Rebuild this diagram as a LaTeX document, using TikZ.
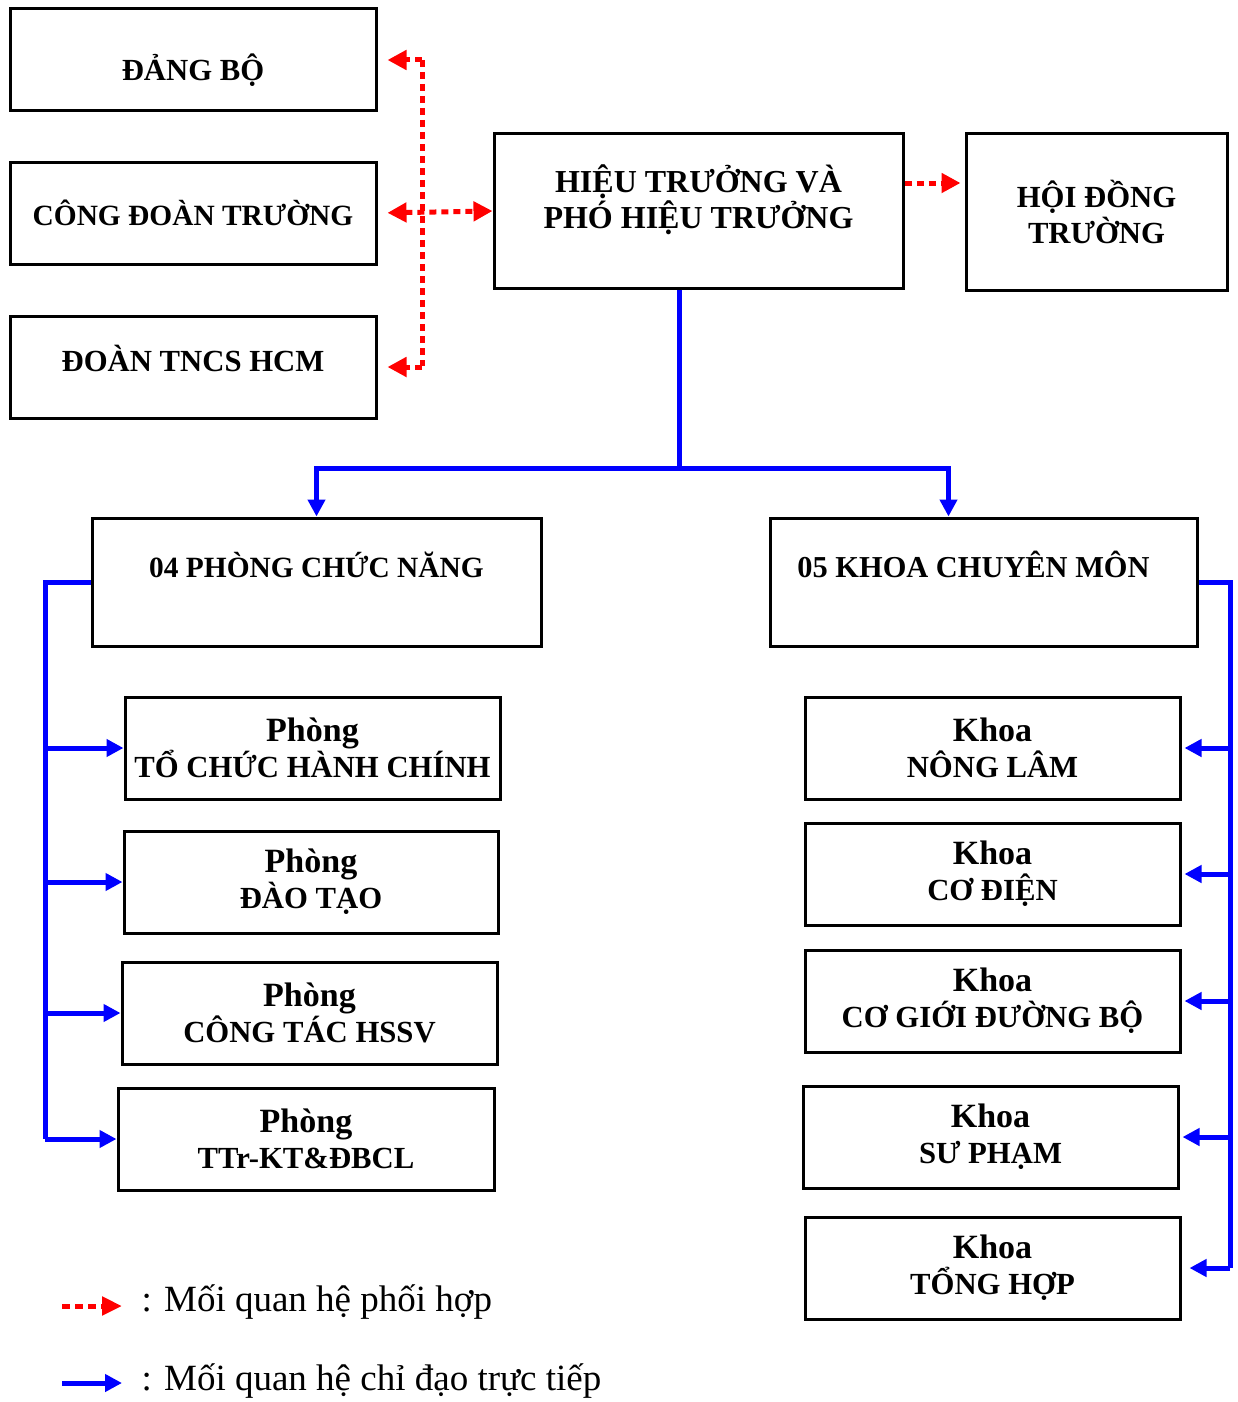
\documentclass[tikz,border=0pt]{standalone}
\usepackage{fontspec}
\setmainfont{Liberation Serif}
\usepackage{xcolor}
\usetikzlibrary{arrows.meta}
\definecolor{redcoord}{HTML}{FF0000}
\definecolor{bluelead}{HTML}{0000FF}
\newcommand{\unitkind}[1]{{\fontsize{34}{36}\selectfont #1}}
\tikzset{
  every node/.append style={font=\fontsize{30.7}{36}\selectfont\bfseries},
  unitbox/.style={draw=black,line width=3pt,align=center,inner sep=0pt},
  coordline/.style={redcoord,line width=5pt,dash pattern=on 7pt off 5pt,
    arrows={-Triangle[length=19pt,width=19pt]}},
  leadline/.style={bluelead,line width=5pt},
  leadarrow/.style={leadline,-{Triangle[length=17pt,width=17pt]}},
}

\begin{document}
\begin{tikzpicture}[x=1pt,y=-1pt]
  \useasboundingbox (0,0) rectangle (1238,1402);
  % upper level
  \node[unitbox,minimum width=366pt,minimum height=102pt,text height=49pt,text depth=7pt]
    (dang) at (193,60) {ĐẢNG BỘ};
  \node[unitbox,minimum width=366pt,minimum height=102pt,font=\fontsize{29.4}{36}\selectfont\bfseries]
    (congdoan) at (193,213) {CÔNG ĐOÀN TRƯỜNG};
  \node[unitbox,minimum width=366pt,minimum height=102pt,text height=30pt,text depth=22pt]
    (doan) at (193,367) {ĐOÀN TNCS HCM};
  \node[unitbox,minimum width=409pt,minimum height=154pt,font=\fontsize{32}{36}\selectfont\bfseries]
    (hieutruong) at (698.5,211) {HIỆU TRƯỞNG VÀ\\PHÓ HIỆU TRƯỞNG\\[-8pt]~};
  \node[unitbox,minimum width=261pt,minimum height=156pt] (hoidong) at (1096.5,212)
    {HỘI ĐỒNG\\TRƯỜNG};
  % middle level
  \node[unitbox,minimum width=449pt,minimum height=128pt,font=\fontsize{29.4}{35}\selectfont\bfseries]
    (phong) at (316.5,582) {04 PHÒNG CHỨC NĂNG\\~};
  \node[unitbox,minimum width=427pt,minimum height=128pt,font=\fontsize{30.4}{35}\selectfont\bfseries]
    (khoa) at (983.5,582) {05 KHOA CHUYÊN MÔN\kern20pt\\~};
  % offices
  \node[unitbox,minimum width=375pt,minimum height=102pt] (p1) at (312.5,748)
    {\unitkind{Phòng}\\TỔ CHỨC HÀNH CHÍNH};
  \node[unitbox,minimum width=374pt,minimum height=102pt] (p2) at (311,882)
    {\unitkind{Phòng}\\ĐÀO TẠO};
  \node[unitbox,minimum width=375pt,minimum height=102pt] (p3) at (309.5,1013)
    {\unitkind{Phòng}\\CÔNG TÁC HSSV};
  \node[unitbox,minimum width=376pt,minimum height=102pt] (p4) at (306,1139)
    {\unitkind{Phòng}\\TTr-KT\&ĐBCL};
  % faculties
  \node[unitbox,minimum width=375pt,minimum height=102pt] (k1) at (992.5,748)
    {\unitkind{Khoa}\\NÔNG LÂM};
  \node[unitbox,minimum width=375pt,minimum height=102pt] (k2) at (992.5,874)
    {\unitkind{Khoa}\\CƠ ĐIỆN};
  \node[unitbox,minimum width=375pt,minimum height=102pt] (k3) at (992.5,1001)
    {\unitkind{Khoa}\\CƠ GIỚI ĐƯỜNG BỘ};
  \node[unitbox,minimum width=375pt,minimum height=102pt] (k4) at (990.5,1137)
    {\unitkind{Khoa}\\SƯ PHẠM};
  \node[unitbox,minimum width=375pt,minimum height=102pt] (k5) at (992.5,1268)
    {\unitkind{Khoa}\\TỔNG HỢP};

  % coordination (red)
  \coordinate (rtop) at (422,60);
  \coordinate (rbot) at (422,366);
  \draw[coordline,arrows=-] (rtop) -- (rbot);
  \draw[coordline,shorten >=10pt] (rtop) -- (dang.east);
  \draw[coordline,shorten >=10pt] (rbot |- doan.east) -- (doan.east);
  \draw[coordline,arrows={Triangle[length=19pt,width=19pt]-Triangle[length=19pt,width=19pt]},
    shorten <=10pt] (congdoan.east) -- (hieutruong.west);
  \draw[coordline,shorten >=4pt] ([yshift=28pt]hieutruong.east) -- ([yshift=29pt]hoidong.west);

  % direct lead (blue)
  \coordinate (bsplit) at (679,468);
  \draw[leadline] (hieutruong.south -| bsplit) -- (bsplit);
  \draw[leadarrow] (bsplit) -| (phong.north);
  \draw[leadarrow] (bsplit) -| ([xshift=-35pt]khoa.north);
  \coordinate (lbus) at (45,582);
  \draw[leadline] (phong.west) -- (lbus) -- (lbus |- p4.west);
  \foreach \p in {p1,p2,p3,p4}
    \draw[leadarrow] (lbus |- \p.west) -- (\p.west);
  \coordinate (rbus) at (1230,582);
  \draw[leadline] (khoa.east) -- (rbus) -- (rbus |- k5.east);
  \foreach \k in {k1,k2,k3,k4}
    \draw[leadarrow,shorten >=3pt] (rbus |- \k.east) -- (\k.east);
  \draw[leadarrow,shorten >=8pt] (rbus |- k5.east) -- (k5.east);

  % legend
  \coordinate (lega) at (62,1306);
  \coordinate (legb) at (122,1306);
  \coordinate (legc) at (62,1383);
  \coordinate (legd) at (122,1383);
  \draw[coordline,arrows={-Triangle[length=20pt,width=18pt]},dash pattern=on 8pt off 5pt] (lega) -- (legb);
  \draw[leadarrow] (legc) -- (legd);
  \node[anchor=west,font=\fontsize{37}{42}\selectfont] (legcoord) at (138,1302) {: Mối quan hệ phối hợp};
  \node[anchor=west,font=\fontsize{37}{42}\selectfont] (leglead) at (138,1381) {: Mối quan hệ chỉ đạo trực tiếp};
\end{tikzpicture}
\end{document}
